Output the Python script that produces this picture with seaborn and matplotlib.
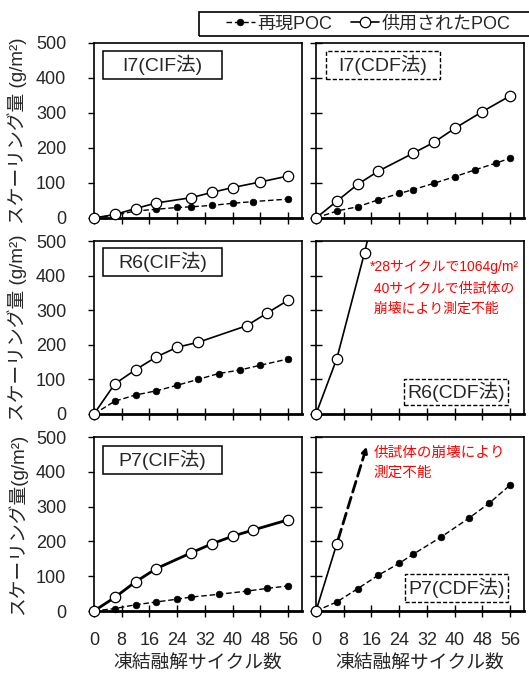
import matplotlib
matplotlib.use("Agg")
import matplotlib.pyplot as plt
from matplotlib.patches import Rectangle
from matplotlib.lines import Line2D
import seaborn as sns
import pandas as pd

# ---------------- data ----------------
cycles_ticks = [0, 8, 16, 24, 32, 40, 48, 56]
y_ticks = [0, 100, 200, 300, 400, 500]

I7_CIF_x_open = [0, 6, 12, 18, 28, 34, 40, 48, 56]
I7_CIF_open = [0, 10, 27, 43, 58, 73, 87, 103, 120]
I7_CIF_x_fill = [0, 6, 12, 18, 24, 28, 34, 40, 46, 56]
I7_CIF_fill = [0, 8, 20, 25, 30, 32, 36, 42, 47, 54]

I7_CDF_x_open = [0, 6, 12, 18, 28, 34, 40, 48, 56]
I7_CDF_open = [0, 48, 96, 134, 185, 216, 256, 304, 349]
I7_CDF_x_fill = [0, 6, 12, 18, 24, 28, 34, 40, 46, 52, 56]
I7_CDF_fill = [0, 20, 32, 52, 70, 81, 99, 118, 138, 157, 171]

R6_CIF_x_open = [0, 6, 12, 18, 24, 30, 44, 50, 56]
R6_CIF_open = [0, 87, 128, 165, 193, 207, 255, 292, 329]
R6_CIF_x_fill = [0, 6, 12, 18, 24, 30, 36, 42, 48, 56]
R6_CIF_fill = [0, 37, 55, 67, 83, 100, 117, 127, 141, 159]

R6_CDF_x_open = [0, 6, 14, 28]
R6_CDF_open = [0, 160, 466, 1064]

P7_CIF_x_open = [0, 6, 12, 18, 28, 34, 40, 46, 56]
P7_CIF_open = [0, 39, 84, 122, 167, 193, 215, 233, 262]
P7_CIF_x_fill = [0, 6, 12, 18, 24, 28, 36, 44, 50, 56]
P7_CIF_fill = [0, 7, 18, 26, 34, 40, 48, 57, 65, 72]

P7_CDF_x_open = [0, 6]
P7_CDF_open = [0, 193]
P7_CDF_x_fill = [0, 6, 12, 18, 24, 28, 36, 44, 50, 56]
P7_CDF_fill = [0, 26, 64, 103, 137, 163, 212, 266, 310, 362]

panel_titles = ["I7(CIF法)", "I7(CDF法)", "R6(CIF法)", "R6(CDF法)", "P7(CIF法)", "P7(CDF法)"]
legend_labels = ["再現POC", "供用されたPOC"]
ylabels = ["スケーリング量 (g/m²)", "スケーリング量 (g/m²)", "スケーリング量(g/m²)"]
xlabel = "凍結融解サイクル数"
note_R6 = ["*28サイクルで1064g/m²", " 40サイクルで供試体の", " 崩壊により測定不能"]
note_P7 = ["供試体の崩壊により", "測定不能"]

# ---------------- style ----------------
sns.set_style("white")
FONT = ["Liberation Sans", "Noto Sans CJK JP", "DejaVu Sans"]
plt.rcParams["font.family"] = FONT
plt.rcParams["axes.unicode_minus"] = False

W, H = 529, 675
fig = plt.figure(figsize=(W / 100, H / 100), dpi=100)

def fx(px):
    return px / W

def fy(py):
    return 1 - py / H

rows = [(43, 218), (241, 414), (437, 611)]
cols = [(94, 302), (316, 524)]

axes = []
for (top, bot) in rows:
    r = []
    for (lft, rgt) in cols:
        ax = fig.add_axes([fx(lft), fy(bot), (rgt - lft) / W, (bot - top) / H])
        r.append(ax)
    axes.append(r)

OPEN = dict(marker="o", markersize=7.5, markerfacecolor="white", markeredgecolor="black",
            markeredgewidth=0.9, color="black")
FILL = dict(marker="o", markersize=4.8, markerfacecolor="black", markeredgecolor="black",
            markeredgewidth=0.5, color="black", linestyle=(0, (4, 2)), linewidth=1.0)


def series(ax, x, y, kind, lw=1.2, clip=False):
    df = pd.DataFrame({"x": x, "y": y})
    kw = dict(OPEN) if kind == "open" else dict(FILL)
    if kind == "open":
        kw["linewidth"] = lw
    sns.lineplot(data=df, x="x", y="y", ax=ax, estimator=None, sort=False, legend=False,
                 zorder=4 if kind == "open" else 3, clip_on=clip, **kw)


# row 1
series(axes[0][0], I7_CIF_x_fill, I7_CIF_fill, "fill")
series(axes[0][0], I7_CIF_x_open, I7_CIF_open, "open")
series(axes[0][1], I7_CDF_x_fill, I7_CDF_fill, "fill")
series(axes[0][1], I7_CDF_x_open, I7_CDF_open, "open")
# row 2
series(axes[1][0], R6_CIF_x_fill, R6_CIF_fill, "fill")
series(axes[1][0], R6_CIF_x_open, R6_CIF_open, "open")
# R6 CDF: line clipped at the top, markers only for visible points
df_r6 = pd.DataFrame({"x": R6_CDF_x_open, "y": R6_CDF_open})
sns.lineplot(data=df_r6, x="x", y="y", ax=axes[1][1], estimator=None, sort=False,
             legend=False, color="black", linewidth=1.2, zorder=3, clip_on=True)
df_r6v = df_r6[df_r6["y"] <= 500]
kw = dict(OPEN)
kw["linestyle"] = "none"
sns.lineplot(data=df_r6v, x="x", y="y", ax=axes[1][1], estimator=None, sort=False,
             legend=False, zorder=4, clip_on=False, **kw)
# row 3
series(axes[2][0], P7_CIF_x_fill, P7_CIF_fill, "fill")
series(axes[2][0], P7_CIF_x_open, P7_CIF_open, "open", lw=2.0)
series(axes[2][1], P7_CDF_x_fill, P7_CDF_fill, "fill")
series(axes[2][1], P7_CDF_x_open, P7_CDF_open, "open")

# ---------------- axes formatting ----------------
for i, r in enumerate(axes):
    for j, ax in enumerate(r):
        ax.set_xlim(0, 60)
        ax.set_ylim(0, 500)
        ax.set_xticks(cycles_ticks)
        ax.set_yticks(y_ticks)
        ax.grid(False)
        for s in ["top", "left", "right"]:
            ax.spines[s].set_linewidth(1.2)
            ax.spines[s].set_color("black")
        ax.spines["bottom"].set_linewidth(2.0)
        ax.spines["bottom"].set_color("black")
        ax.tick_params(axis="x", direction="inout", length=8, width=1.0, color="black",
                       labelsize=13, pad=11, bottom=True)
        if j == 0:
            ax.tick_params(axis="y", direction="out", length=4, width=1.0, color="black",
                           labelsize=13, pad=16, left=True)
            ax.set_ylabel(ylabels[i], fontsize=13.5, family=FONT)
            ax.yaxis.set_label_coords(-0.32, 0.5)
        else:
            ax.tick_params(axis="y", direction="inout", length=8, width=1.0, color="black",
                           labelleft=False, left=True)
            ax.set_ylabel("")
        if i < 2:
            ax.tick_params(axis="x", labelbottom=False)
            ax.set_xlabel("")
        else:
            ax.set_xlabel(xlabel, fontsize=13.5, family=FONT, labelpad=4)
        for lab in ax.get_xticklabels() + ax.get_yticklabels():
            lab.set_family(FONT)

# ---------------- panel label boxes ----------------
boxes = [
    (0, 0, (0.043, 0.615), (0.794, 0.954), "-"),
    (0, 1, (0.048, 0.596), (0.794, 0.954), "--"),
    (1, 0, (0.043, 0.615), (0.798, 0.960), "-"),
    (1, 1, (0.423, 0.923), (0.052, 0.202), "--"),
    (2, 0, (0.043, 0.615), (0.787, 0.948), "-"),
    (2, 1, (0.428, 0.923), (0.052, 0.213), "--"),
]
for k, (i, j, (x0, x1), (y0, y1), ls) in enumerate(boxes):
    ax = axes[i][j]
    rect = Rectangle((x0, y0), x1 - x0, y1 - y0, transform=ax.transAxes, fill=True,
                     facecolor="white", edgecolor="black", linewidth=1.1 if ls == "-" else 1.0,
                     linestyle="-" if ls == "-" else (0, (3, 1.5)), zorder=6)
    ax.add_patch(rect)
    ax.text((x0 + x1) / 2, (y0 + y1) / 2, panel_titles[k], transform=ax.transAxes,
            ha="center", va="center", fontsize=14, family=FONT, zorder=7)

# ---------------- red notes ----------------
axR6 = axes[1][1]
for t, (xx, yy) in zip(note_R6, [(15.6, 425), (15.6, 362), (15.6, 303)]):
    axR6.text(xx, yy, t, color="#ff0000", fontsize=10, ha="left", va="center", family=FONT)

axP7 = axes[2][1]
axP7.annotate("", xy=(14.6, 472), xytext=(6, 193),
              arrowprops=dict(arrowstyle="-|>", color="black", lw=2.0, linestyle=(0, (4, 2)),
                              mutation_scale=8, shrinkA=3, shrinkB=0), zorder=2)
for t, (xx, yy) in zip(note_P7, [(16.5, 454), (16.5, 396)]):
    axP7.text(xx, yy, t, color="#ff0000", fontsize=10.5, ha="left", va="center", family=FONT)

# ---------------- legend ----------------
frame = Rectangle((fx(199), fy(36)), fx(340), (36 - 12) / H, transform=fig.transFigure,
                  fill=False, edgecolor="black", linewidth=1.2)
fig.patches.append(frame)
handles = [
    Line2D([], [], **FILL),
    Line2D([], [], linewidth=1.2, **OPEN),
]
leg = fig.legend(handles, legend_labels, loc="center left",
                 bbox_to_anchor=(fx(226), fy(24)), ncol=2, frameon=False,
                 handlelength=1.6, handletextpad=0.15, columnspacing=1.0,
                 borderpad=0, borderaxespad=0, prop={"family": FONT, "size": 13})

fig.savefig("out.png", dpi=100)
